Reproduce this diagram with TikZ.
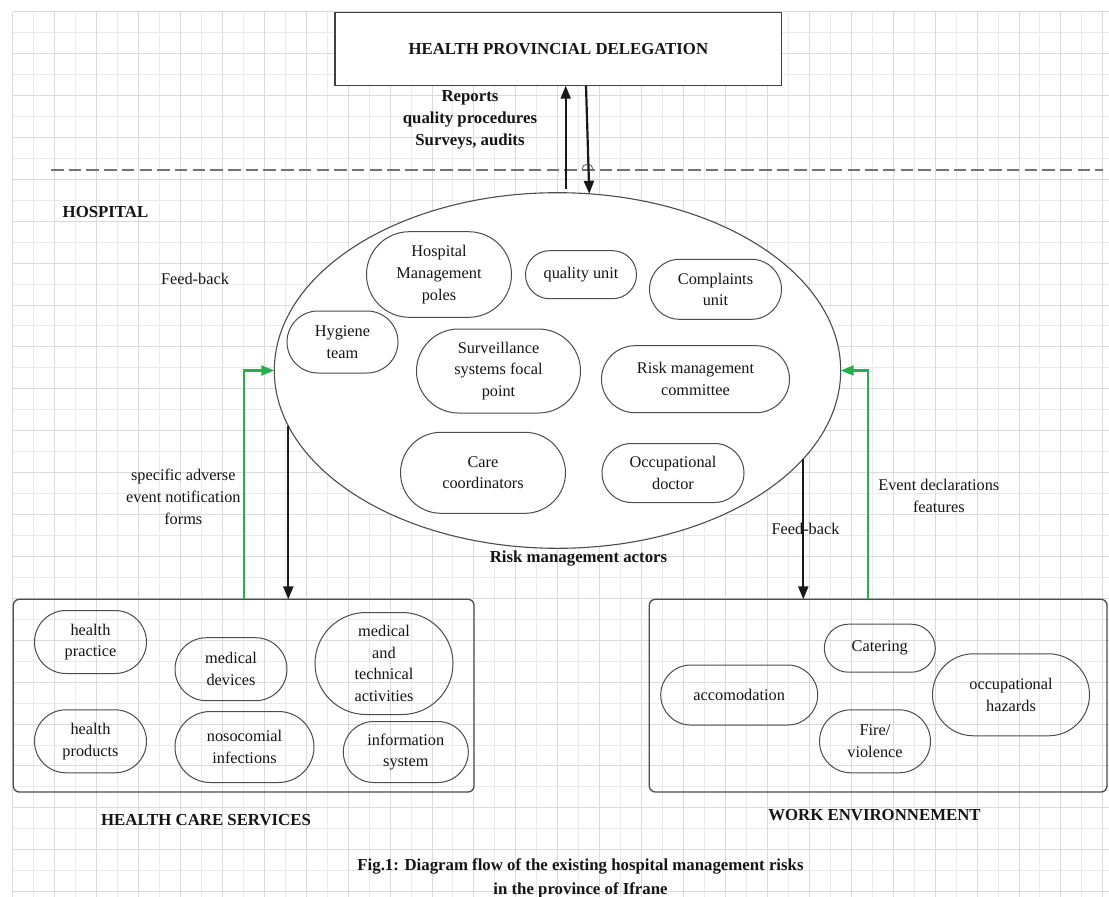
\documentclass[tikz,border=0pt]{standalone}
\usepackage{fontspec}
\setmainfont{Liberation Serif}
\usetikzlibrary{arrows.meta,shapes.geometric}
\definecolor{gridmajor}{HTML}{DADADA}
\definecolor{gridminor}{HTML}{EAEAEA}
\definecolor{grnline}{HTML}{22B14C}
\definecolor{txtcol}{HTML}{151515}
\begin{document}
\begin{tikzpicture}[x=1pt,y=-1pt,
  every node/.style={inner sep=0pt, outer sep=0pt},
  txt/.style={font=\fontsize{16.3}{21.7}\selectfont, align=center, text=txtcol},
  btxt/.style={font=\fontsize{16.8}{22}\selectfont\bfseries, align=center, text=txtcol},
  pill/.style={draw=black!70, line width=1pt, txt},
  panel/.style={draw=black!70, line width=1.3pt, rounded corners=6pt},
  blk/.style={draw=black!90, line width=2.2pt, -{Triangle[length=13pt,width=10pt]}},
  grn/.style={draw=grnline, line width=2.2pt, -{Triangle[length=13pt,width=10pt]}}]
\useasboundingbox (0,0) rectangle (1109,897);
\fill[white] (0,0) rectangle (1109,897);
% grid
\foreach \i in {1,3,...,51}{\pgfmathsetmacro{\gx}{12.7+20.965*\i}\draw[gridminor,line width=1pt] (\gx,11.7) -- (\gx,897);}
\foreach \j in {1,3,...,41}{\pgfmathsetmacro{\gy}{11.7+20.952*\j}\draw[gridminor,line width=1pt] (12.7,\gy) -- (1109,\gy);}
\foreach \i in {0,2,...,52}{\pgfmathsetmacro{\gx}{12.7+20.965*\i}\draw[gridmajor,line width=1pt] (\gx,11.7) -- (\gx,897);}
\foreach \j in {0,2,...,42}{\pgfmathsetmacro{\gy}{11.7+20.952*\j}\draw[gridmajor,line width=1pt] (12.7,\gy) -- (1109,\gy);}

% dashed separator
\draw[draw=black!55, line width=1.5pt, dash pattern=on 12.5pt off 5.2pt] (51,170) -- (1103,170);
\draw[draw=black!60, line width=0.9pt] (582,169.5) arc[start angle=180,end angle=0,radius=5.5pt];

% top box
\node[draw=black!75, line width=1.3pt, fill=white, minimum width=446.7pt, minimum height=73.4pt, btxt] (hpd) at (558.35,49) {HEALTH PROVINCIAL DELEGATION};
\node[btxt] (rep) at (470,119.5) {Reports\\quality procedures\\Surveys, audits};

\node[btxt] (hosp) at (105.5,211.7) {HOSPITAL};
\node[txt] (fb1) at (195,279) {Feed-back};

% ellipse of actors
\node[draw=black!70, line width=1.1pt, fill=white, ellipse, minimum width=566.4pt, minimum height=355.6pt] (ell) at (557.5,370.5) {};
\node[pill, minimum width=145pt, minimum height=85.6pt, rounded corners=42.8pt] (hmp) at (439,274.5) {Hospital\\Management\\poles};
\node[pill, minimum width=111pt, minimum height=48pt, rounded corners=24pt] (qu) at (581,274.7) {quality unit};
\node[pill, minimum width=132pt, minimum height=60pt, rounded corners=30pt] (cu) at (715.5,289.3) {Complaints\\unit};
\node[pill, minimum width=111pt, minimum height=62pt, rounded corners=31pt] (hyg) at (342.5,342) {Hygiene\\team};
\node[pill, minimum width=164pt, minimum height=84pt, rounded corners=42pt] (ssf) at (498.5,371) {Surveillance\\systems focal\\point};
\node[pill, minimum width=188pt, minimum height=67pt, rounded corners=33.5pt] (rmc) at (695.5,379.2) {Risk management\\committee};
\node[pill, minimum width=165pt, minimum height=81pt, rounded corners=40.5pt] (cc) at (483,472.8) {Care\\coordinators};
\node[pill, minimum width=142pt, minimum height=59pt, rounded corners=29.5pt] (od) at (673,473) {Occupational\\doctor};
\node[btxt] (rma) at (578.5,558.5) {Risk management actors};

% bottom panels
\node[panel, minimum width=460.7pt, minimum height=192.7pt] (hcs) at (243.65,695.65) {};
\node[panel, minimum width=457.7pt, minimum height=192.7pt] (we) at (878.15,695.65) {};

\node[pill, minimum width=112pt, minimum height=63pt, rounded corners=31.5pt] (hp) at (90.5,642) {health\\practice};
\node[pill, minimum width=112pt, minimum height=63pt, rounded corners=31.5pt] (md) at (231,669.2) {medical\\devices};
\node[pill, minimum width=138pt, minimum height=102pt, rounded corners=51pt] (mta) at (384,663.5) {medical\\and\\technical\\activities};
\node[pill, minimum width=112pt, minimum height=63pt, rounded corners=31.5pt] (hpr) at (90.5,741.3) {health\\products};
\node[pill, minimum width=139pt, minimum height=71pt, rounded corners=35.5pt] (noso) at (244.5,747) {nosocomial\\infections};
\node[pill, minimum width=125pt, minimum height=61pt, rounded corners=30.5pt] (info) at (405.8,752) {information\\system};

\node[pill, minimum width=111pt, minimum height=48pt, rounded corners=24pt] (cat) at (879.8,648.2) {Catering};
\node[pill, minimum width=157pt, minimum height=60pt, rounded corners=30pt] (acc) at (739.2,695) {accomodation};
\node[pill, minimum width=157pt, minimum height=82pt, rounded corners=41pt] (oh) at (1011,694.8) {occupational\\hazards};
\node[pill, minimum width=111pt, minimum height=63pt, rounded corners=31.5pt] (fire) at (875,741.3) {Fire/\\violence};

\node[btxt] (hcsl) at (206,820) {HEALTH CARE SERVICES};
\node[btxt] (wel) at (874.5,815) {WORK ENVIRONNEMENT};
\node[btxt, font=\fontsize{16.8}{23.3}\selectfont\bfseries] (cap) at (580.5,878.3) {Fig.1: Diagram flow of the existing hospital management risks\\in the province of Ifrane};

% labels on connectors
\node[txt, font=\fontsize{16.3}{22}\selectfont] (lsa) at (183.3,497) {specific adverse\\event notification\\forms};
\node[txt] (led) at (938.8,496) {Event declarations\\features};
\node[txt] (fb2) at (805.5,529.3) {Feed-back};

% connectors
\coordinate (up0) at (565.7,188.5);
\draw[blk] (up0) -- (up0 |- hpd.south);
\coordinate (dn0) at (586,85.7);
\coordinate (dn1) at (589.3,193.8);
\draw[blk] (dn0) -- (dn1);

\coordinate (lb0) at (288.3,425.7);
\draw[blk] (lb0) -- (lb0 |- hcs.north);
\coordinate (lg0) at (244,600);
\draw[grn] (lg0 |- hcs.north) |- (ell.west);

\coordinate (rb0) at (803.3,458.8);
\draw[blk] (rb0) -- (rb0 |- we.north);
\coordinate (rg0) at (867.7,600);
\draw[grn] (rg0 |- we.north) |- (ell.east);
\end{tikzpicture}
\end{document}
